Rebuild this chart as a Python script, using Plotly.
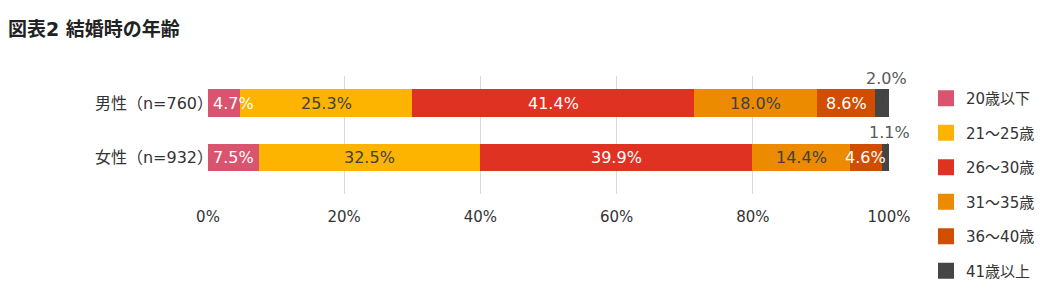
import plotly.graph_objects as go

categories = ["男性（n=760）", "女性（n=932）"]
series_names = ["20歳以下", "21～25歳", "26～30歳", "31～35歳", "36～40歳", "41歳以上"]
male = [4.7, 25.3, 41.4, 18.0, 8.6, 2.0]
female = [7.5, 32.5, 39.9, 14.4, 4.6, 1.1]
colors = ["#D9546E", "#FDB400", "#E03222", "#EC8B00", "#D04E00", "#454545"]
text_colors = ["white", "#404040", "white", "#404040", "white", "#595959"]
ticks = [0, 20, 40, 60, 80, 100]
tick_labels = ["0%", "20%", "40%", "60%", "80%", "100%"]

FONT = "DejaVu Sans, Noto Sans CJK JP"
fig = go.Figure()

for i, name in enumerate(series_names):
    fig.add_trace(go.Bar(
        y=categories, x=[male[i], female[i]], orientation="h",
        marker=dict(color=colors[i], line=dict(width=0)),
        showlegend=False, hoverinfo="skip"))
    fig.add_trace(go.Scatter(
        x=[None], y=[None], mode="markers", name=name,
        legendgroup=name,
        marker=dict(symbol="square", size=16, color=colors[i])))

annotations = []
for vals, cat in [(male, categories[0]), (female, categories[1])]:
    cum = 0
    for i, v in enumerate(vals):
        center = cum + v / 2
        start = cum
        cum += v
        font = dict(family=FONT, size=16, color=text_colors[i])
        label = f"{v:.1f}%"
        if i == len(vals) - 1:
            annotations.append(dict(
                x=center, y=cat, xref="x", yref="y", text=label,
                showarrow=True, arrowhead=0, arrowwidth=1, arrowcolor="#404040",
                ax=4, ay=-25, font=font))
        elif v < 6 and start == 0:
            annotations.append(dict(
                x=start, y=cat, xref="x", yref="y", text=label, xanchor="left",
                xshift=3, showarrow=False, font=font))
        else:
            annotations.append(dict(
                x=center, y=cat, xref="x", yref="y", text=label,
                showarrow=False, font=font))

fig.update_layout(
    width=1047, height=295,
    margin=dict(l=208, r=158, t=76, b=101, autoexpand=False),
    barmode="stack", bargap=0.49,
    plot_bgcolor="white", paper_bgcolor="white",
    font=dict(family=FONT, size=15, color="#333333"),
    title=dict(text="<b>図表2 結婚時の年齢</b>", x=8/1047, xanchor="left",
               y=1 - 29/295, yanchor="middle", yref="container",
               font=dict(family=FONT, size=19, color="#222222")),
    xaxis=dict(range=[0, 100], tickmode="array", tickvals=ticks, ticktext=tick_labels,
               showgrid=True, gridcolor="#D9D9D9", gridwidth=1, zeroline=False,
               showline=False, ticklabelstandoff=12, automargin=False,
               tickfont=dict(size=15, color="#333333"), fixedrange=True),
    yaxis=dict(autorange="reversed", showgrid=False, zeroline=False, automargin=False,
               ticklabelstandoff=-6, tickfont=dict(size=16, color="#333333")),
    legend=dict(xref="container", yref="container", x=926 / 1047, xanchor="left",
                y=1 - 82 / 295, yanchor="top",
                traceorder="grouped", tracegroupgap=12, maxheight=400,
                font=dict(family=FONT, size=15, color="#333333"),
                itemwidth=30),
    annotations=annotations,
)

fig.write_html("out.html")
